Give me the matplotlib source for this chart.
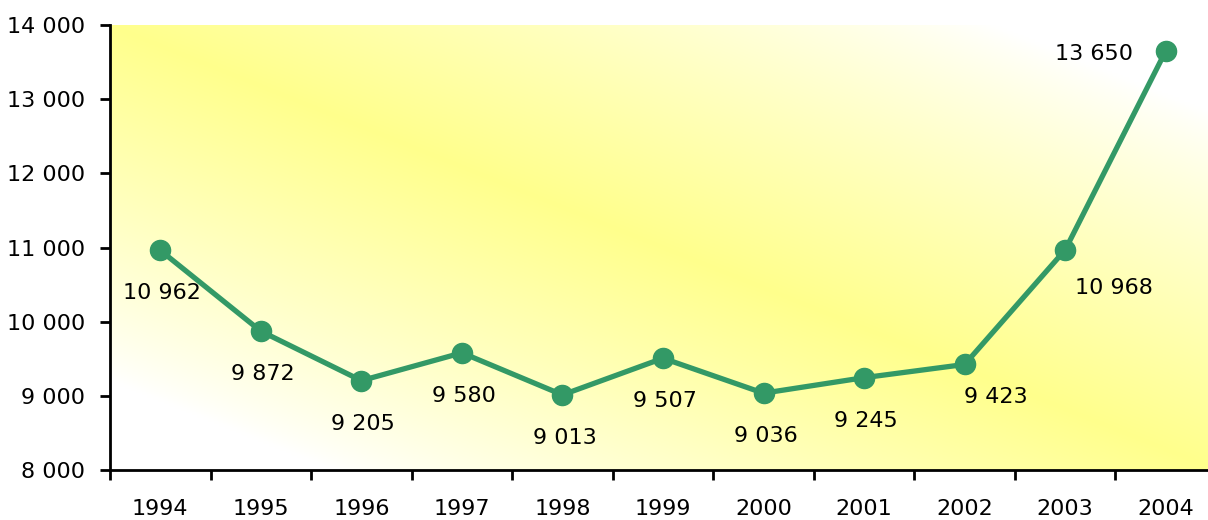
import numpy as np
import matplotlib.pyplot as plt
from matplotlib.ticker import FuncFormatter

# data
years = ['1994', '1995', '1996', '1997', '1998', '1999',
         '2000', '2001', '2002', '2003', '2004']
values = [10962, 9872, 9205, 9580, 9013, 9507, 9036, 9245, 9423, 10968, 13650]

# label offsets in pixels (dx, dy) relative to each point
label_offsets = [(2, -43)] * 8 + [(31, -33), (49, -38), (-72, -3)]

green = '#339966'
yellow = np.array([1.0, 1.0, 0.55])

plt.rcParams['font.family'] = 'DejaVu Sans'

fig = plt.figure(figsize=(12.08, 5.2), dpi=100)
ax = fig.add_axes([110 / 1208, 50 / 520, 1106 / 1208, 445 / 520])

# diagonal gradient background (yellow band along top-left -> bottom-right)
xs = np.linspace(0, 1, 400)
ys = np.linspace(0, 1, 200)
X, Y = np.meshgrid(xs, ys)  # Y = 0 at top
u = X - Y
t = np.clip(1 - np.abs(u) / 0.8, 0, 1) ** 0.85
img = (1 - t[..., None]) * np.ones(3) + t[..., None] * yellow
ax.imshow(img, extent=[0, 1, 0, 1], transform=ax.transAxes,
          aspect='auto', origin='upper', zorder=0)

x = np.arange(len(years))
ax.plot(x, values, color=green, lw=3.8, marker='o', markersize=14.5,
        zorder=3, clip_on=False)

for xi, v, (dx, dy) in zip(x, values, label_offsets):
    ax.annotate(f'{v:,}'.replace(',', ' '), (xi, v), xytext=(dx, dy),
                textcoords='offset pixels', ha='center', va='center',
                fontsize=16, color='black', zorder=4)

# formatting
ax.set_xlim(-0.5, len(years) - 0.5)
ax.set_ylim(8000, 14000)
ax.set_yticks(range(8000, 14001, 1000))
ax.yaxis.set_major_formatter(FuncFormatter(lambda v, p: f'{int(v):,}'.replace(',', ' ')))
ax.set_xticks(x)
ax.set_xticklabels(years)
ax.set_xticks(np.arange(-0.5, len(years) + 0.5, 1), minor=True)
ax.tick_params(axis='x', which='major', length=0, pad=21, labelsize=16)
ax.tick_params(axis='x', which='minor', length=7.5, width=2, direction='out')
ax.tick_params(axis='y', length=7.5, width=2, pad=10.5, labelsize=16)

for side in ('top', 'right'):
    ax.spines[side].set_visible(False)
for side in ('left', 'bottom'):
    ax.spines[side].set_linewidth(2)
    ax.spines[side].set_zorder(5)

fig.savefig('out.png', dpi=100)
